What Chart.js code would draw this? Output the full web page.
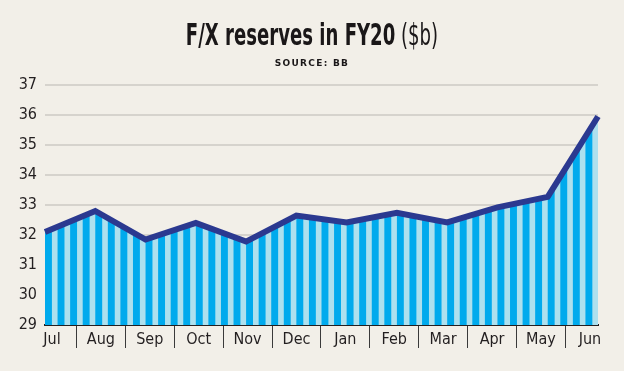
<!DOCTYPE html>
<html>
<head>
<meta charset="utf-8">
<script src="https://cdn.jsdelivr.net/npm/chart.js@4"></script>
<style>
    body { margin: 0; background: #f2efe8; }
    #wrap { position: relative; width: 624px; height: 371px; }
    .title {
        position: absolute; left: 0; top: 18px; width: 624px; text-align: center;
        font-family: 'DejaVu Sans Condensed', 'Liberation Sans Narrow', sans-serif;
        font-size: 30px; color: #1a1718; line-height: 34px;
        transform: scaleX(0.67); transform-origin: 312px 0;
    }
    .title b { font-weight: bold; }
    .title span { font-weight: normal; }
    .source {
        position: absolute; left: 0; top: 58px; width: 624px; text-align: center;
        font-family: 'DejaVu Sans', sans-serif; font-size: 9px; font-weight: bold;
        letter-spacing: 1.3px; color: #1a1718;
    }
</style>
</head>
<body>
<div id="wrap">
    <canvas id="chart" width="624" height="371"></canvas>
    <div class="title"><b>F/X reserves in FY20</b> <span>($b)</span></div>
    <div class="source">SOURCE: BB</div>
</div>
<script>
const months = ['Jul', 'Aug', 'Sep', 'Oct', 'Nov', 'Dec', 'Jan', 'Feb', 'Mar', 'Apr', 'May', 'Jun'];
const reserves = [32.1, 32.8, 31.85, 32.4, 31.78, 32.65, 32.42, 32.74, 32.42, 32.92, 33.27, 35.95];
const yMin = 29;
const yMax = 37;

const labelFont = { family: "'DejaVu Sans Condensed', 'Liberation Sans Narrow', sans-serif", size: 16 };

// vertical stripe fill, 4 stripes per month
function stripes(context) {
    const area = context.chart.chartArea;
    if (!area) return '#00aeef';
    const c = document.createElement('canvas');
    c.width = Math.ceil(area.right) + 1;
    c.height = 4;
    const g = c.getContext('2d');
    g.fillStyle = '#ade0ee';
    g.fillRect(0, 0, c.width, c.height);
    g.fillStyle = '#00aaed';
    const period = (area.right - area.left) / ((months.length - 1) * 4);
    for (let x = area.left; x < area.right; x += period) {
        g.fillRect(x, 0, period * 0.55, c.height);
    }
    return context.chart.ctx.createPattern(c, 'repeat');
}

new Chart(document.getElementById('chart'), {
    type: 'line',
    data: {
        labels: months,
        datasets: [{
            data: reserves,
            borderColor: '#2b3990',
            borderWidth: 6,
            borderJoinStyle: 'miter',
            backgroundColor: stripes,
            fill: 'start',
            tension: 0,
            pointRadius: 0,
            clip: false
        }]
    },
    options: {
        responsive: false,
        animation: false,
        layout: { padding: { top: 85, right: 26, left: 0, bottom: 0 } },
        plugins: { legend: { display: false }, tooltip: { enabled: false } },
        scales: {
            x: { type: 'category', display: false, offset: false },
            xl: {
                type: 'linear',
                position: 'bottom',
                min: -0.143,
                max: 11.166,
                afterFit: s => { s.height = 46; },
                border: { display: true, color: '#231f20', width: 2 },
                grid: {
                    drawOnChartArea: false,
                    tickLength: 23,
                    tickWidth: 1,
                    tickColor: ctx => (ctx.tick && ctx.tick.value % 1 !== 0) ? '#3a3a3a' : 'rgba(0,0,0,0)'
                },
                ticks: {
                    stepSize: 0.5,
                    includeBounds: false,
                    autoSkip: false,
                    maxRotation: 0,
                    padding: -18,
                    color: '#231f20',
                    font: labelFont,
                    callback: v => (v % 1 === 0 ? months[v] : '')
                }
            },
            y: {
                min: yMin,
                max: yMax,
                afterFit: s => { s.width = 45; },
                border: { display: false },
                grid: {
                    drawTicks: false,
                    lineWidth: 2,
                    color: ctx => ctx.tick && ctx.tick.value === yMin ? 'rgba(0,0,0,0)' : '#d6d3cd'
                },
                ticks: {
                    stepSize: 1,
                    padding: 8,
                    color: '#231f20',
                    font: labelFont
                }
            }
        }
    }
});
</script>
</body>
</html>
